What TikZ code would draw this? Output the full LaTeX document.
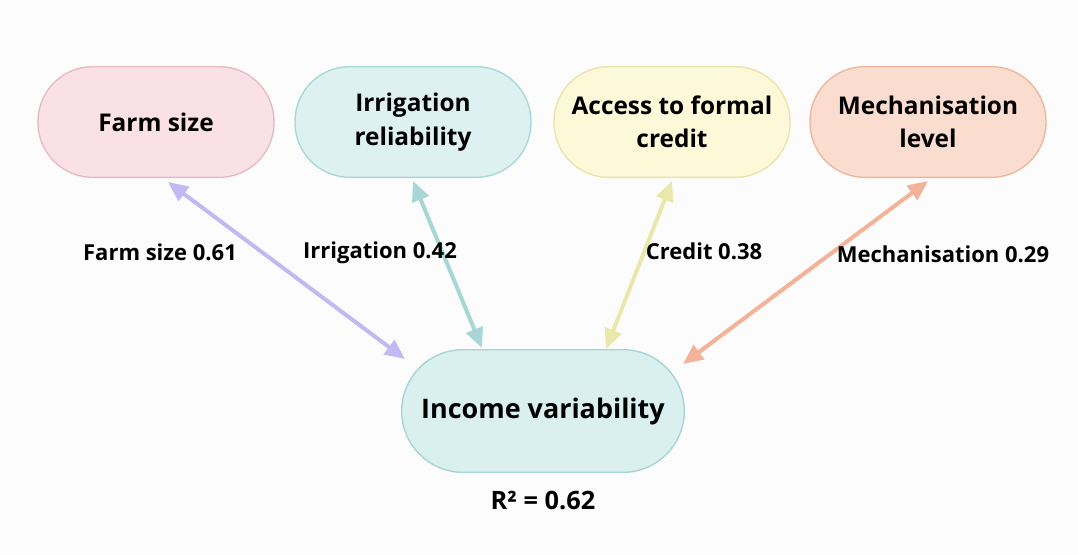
\documentclass[tikz,border=0pt]{standalone}
\usepackage{fontspec}
\setmainfont{Open Sans}
\usetikzlibrary{arrows.meta}

\definecolor{pageBg}{HTML}{FCFCFC}
\definecolor{farmFill}{HTML}{F9E1E7}
\definecolor{farmLine}{HTML}{E6B9C5}
\definecolor{irrFill}{HTML}{DCF1F0}
\definecolor{irrLine}{HTML}{A9D7D4}
\definecolor{credFill}{HTML}{FDF8D8}
\definecolor{credLine}{HTML}{EBE4A8}
\definecolor{mechFill}{HTML}{FBDDCF}
\definecolor{mechLine}{HTML}{EDB59D}
\definecolor{incFill}{HTML}{D9F0EE}
\definecolor{incLine}{HTML}{A7D4D0}
\definecolor{farmArrow}{HTML}{C1B9F1}
\definecolor{irrArrow}{HTML}{A6D7D6}
\definecolor{credArrow}{HTML}{EAE7AA}
\definecolor{mechArrow}{HTML}{F2B398}

\begin{document}
\begin{tikzpicture}[x=0.75pt,y=-0.75pt,
  factor/.style={rounded corners=41pt, minimum width=177pt, minimum height=83pt,
    line width=1pt, align=center, inner sep=2pt,
    font=\bfseries\fontsize{18.3}{25}\selectfont},
  outcome/.style={rounded corners=46pt, minimum width=212pt, minimum height=92pt,
    line width=1pt, align=center, font=\bfseries\fontsize{20.2}{24}\selectfont},
  link/.style={line width=3pt,
    {Triangle[length=15pt,width=13pt]}-{Triangle[length=15pt,width=13pt]}},
  coef/.style={font=\bfseries\fontsize{16.5}{18}\selectfont}]

  % page
  \fill[pageBg] (0,0) rectangle (1078,554);
  \useasboundingbox (0,0) rectangle (1078,554);

  % predictors
  \node[factor, fill=farmFill, draw=farmLine] (farm) at (156,122) {Farm size};
  \node[factor, fill=irrFill, draw=irrLine] (irr) at (413,122) {Irrigation\\reliability};
  \node[factor, fill=credFill, draw=credLine] (cred) at (672,122) {Access to formal\\credit};
  \node[factor, fill=mechFill, draw=mechLine] (mech) at (928,122) {Mechanisation\\level};

  % outcome
  \node[outcome, fill=incFill, draw=incLine] (inc) at (543,411) {Income variability};
  \node[font=\bfseries\fontsize{19}{21}\selectfont] (r2) at (543,500) {R² = 0.62};

  % links
  \draw[link, farmArrow] ([shift={(12,4)}]farm.south) -- ([shift={(-138,10)}]inc.north);
  \draw[link, irrArrow] ([shift={(0,3)}]irr.south) -- ([shift={(-61,-1)}]inc.north);
  \draw[link, credArrow] ([shift={(0,3)}]cred.south) -- ([shift={(63,0)}]inc.north);
  \draw[link, mechArrow] ([shift={(0,3)}]mech.south) -- ([shift={(140,15)}]inc.north);

  % coefficients
  \node[coef] (cFarm) at (160,252) {Farm size 0.61};
  \node[coef] (cIrr) at (380,253) {Irrigation 0.42};
  \node[coef] (cCred) at (704,251) {Credit 0.38};
  \node[coef] (cMech) at (943,254) {Mechanisation 0.29};
\end{tikzpicture}
\end{document}
